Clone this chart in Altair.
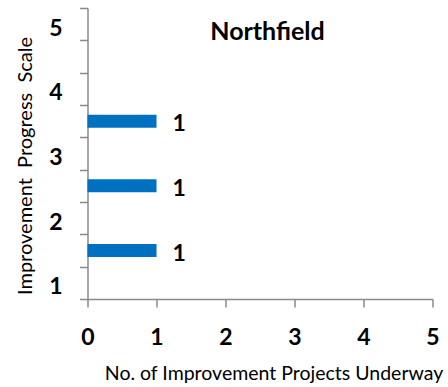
import altair as alt
import pandas as pd

# Progress scale points (half steps sit between the labelled integers)
scale_levels = ["1", "1.5", "2", "2.5", "3", "3.5", "4", "4.5", "5"]
# Projects underway at each progress level
bar_levels = ["1.5", "2.5", "3.5"]
project_counts = [1, 1, 1]
x_ticks = [0, 1, 2, 3, 4, 5]
chart_title = "Northfield"

FONT = "Lato"
BLUE = "#0070C0"
GREY = "#8A8A8A"

df = pd.DataFrame({"level": bar_levels, "count": project_counts})

x_enc = alt.X(
    "count:Q",
    scale=alt.Scale(domain=[0, 5], nice=False),
    axis=alt.Axis(
        values=x_ticks, format="d", grid=False,
        title="No. of Improvement Projects Underway",
        domainColor=GREY, domainWidth=1.5, tickColor=GREY, tickWidth=1.5, tickSize=8,
        labelFont=FONT, labelFontSize=23, labelFontWeight="bold", labelColor="black",
        labelPadding=37, labelBaseline="alphabetic", labelFlush=False, labelOverlap=False,
        titleFont=FONT, titleFontSize=19.5, titleFontWeight="normal", titleColor="black",
        titleX=186, titleY=80, titleAlign="center", titleBaseline="alphabetic",
    ),
)

y_enc = alt.Y(
    "level:N",
    scale=alt.Scale(domain=scale_levels[::-1], paddingInner=0, paddingOuter=0),
    axis=alt.Axis(
        title="Improvement\u00a0 Progress\u00a0 Scale", grid=False,
        labelExpr="indexof(datum.label, '.') >= 0 ? '' : datum.label",
        tickBand="extent",
        domainColor=GREY, domainWidth=1.5, tickColor=GREY, tickWidth=1.5, tickSize=8,
        labelFont=FONT, labelFontSize=23, labelFontWeight="bold", labelColor="black",
        labelPadding=17.5, labelAlign="right", labelBaseline="middle", labelOverlap=False,
        labelOffset=4,
        titleFont=FONT, titleFontSize=20, titleFontWeight="normal", titleColor="black",
        titleAngle=270, titleX=-56, titleY=157.5, titleAlign="center",
        titleBaseline="alphabetic",
    ),
)

base = alt.Chart(df)

bars = base.mark_bar(size=13, color=BLUE).encode(x=x_enc, y=y_enc)

values = base.mark_text(
    align="left", baseline="middle", dx=16, dy=3,
    font=FONT, fontSize=23, fontWeight="bold", color="black",
).encode(x="count:Q", y=alt.Y("level:N"), text=alt.Text("count:Q", format="d"))

title = alt.Chart(alt.Data(values=[{"t": chart_title}])).mark_text(
    align="center", baseline="alphabetic",
    font=FONT, fontSize=25, fontWeight="bold", color="black",
).encode(x=alt.value(180), y=alt.value(31.5), text="t:N")

chart = alt.layer(bars, values, title).properties(
    width=345, height=291,
    padding={"left": 87.5, "top": 8, "right": 15.5, "bottom": 88},
    autosize=alt.AutoSizeParams(type="none"),
    background="white",
).configure_view(stroke=None)

chart.save("out.html", embed_options={"renderer": "svg", "actions": False})
